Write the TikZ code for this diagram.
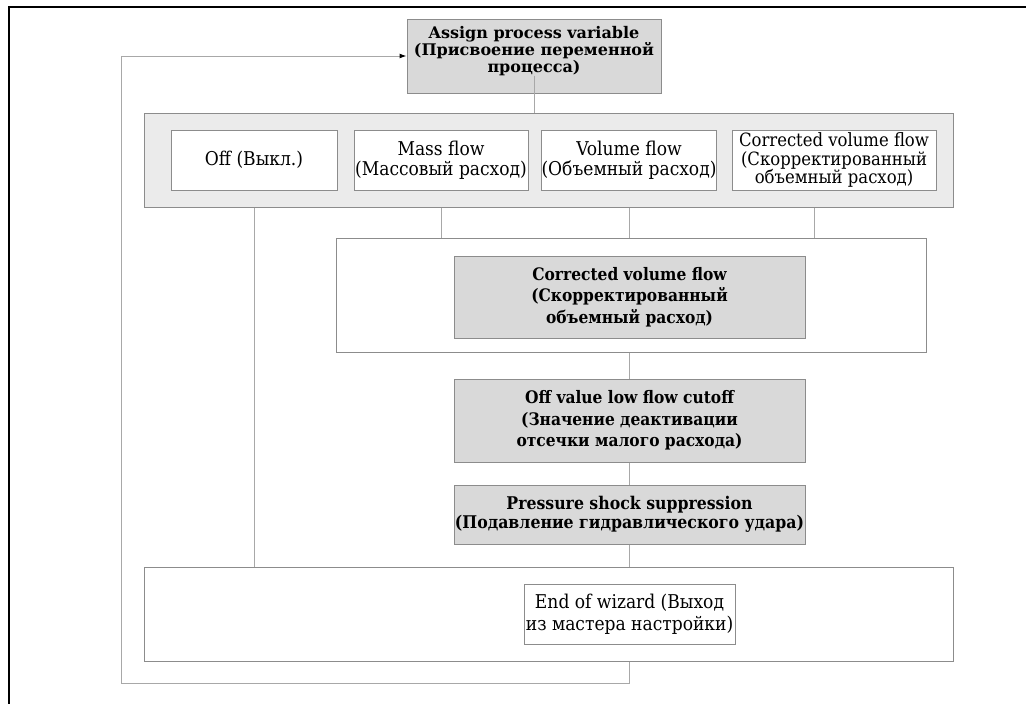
\documentclass[tikz,border=0pt]{standalone}
\usepackage{fontspec}
\setmainfont{DejaVu Serif Condensed}
\newfontfamily\wideserif{DejaVu Serif}
\usetikzlibrary{arrows.meta}

\definecolor{boxgray}{HTML}{D9D9D9}
\definecolor{panelgray}{HTML}{EBEBEB}
\definecolor{edgegray}{HTML}{8C8C8C}
\definecolor{linkgray}{HTML}{A8A8A8}

\begin{document}
\begin{tikzpicture}[
    x=1pt, y=-1pt,
    box/.style={draw=edgegray, line width=1pt, inner sep=0pt, align=center},
    param/.style={box, fill=boxgray, font=\bfseries\fontsize{17.2}{21.5}\selectfont},
    choice/.style={box, fill=white, minimum height=60, font=\fontsize{19}{20}\selectfont},
    group/.style={draw=edgegray, line width=1pt, inner sep=0pt},
    link/.style={draw=linkgray, line width=1pt},
    back/.style={link, -{Latex[length=7pt,width=5pt,color=black]}}
]
\useasboundingbox (0,0) rectangle (1026,704);

% frame
\draw[line width=1.6pt] (9,704) -- (9,7) -- (1026,7);

% containers
\node[group, fill=panelgray, minimum width=809, minimum height=94] (panel) at (548.5,160) {};
\node[group, fill=white, minimum width=590, minimum height=114] (cvgroup) at (631,295) {};
\node[group, fill=white, minimum width=809, minimum height=94] (endgroup) at (548.5,614) {};

% process variable
\node[param, minimum width=254, minimum height=74, font=\wideserif\bfseries\fontsize{16}{14}\selectfont] (assign) at (534,56)
    {Assign process variable\\(Присвоение переменной\\процесса)\\\mbox{}};

% choices
\node[choice, minimum width=166] (off) at (254,160) {Off (Выкл.)};
\node[choice, minimum width=174] (mass) at (441,160) {Mass flow\\(Массовый расход)};
\node[choice, minimum width=174] (vol) at (629,160) {Volume flow\\(Объемный расход)};
\node[choice, minimum width=204, font=\fontsize{18.3}{18.5}\selectfont] (corr) at (834,160)
    {Corrected volume flow\\(Скорректированный\\объемный расход)};

% parameters
\node[param, minimum width=351, minimum height=82] (cvflow) at (629.5,297)
    {Corrected volume flow\\(Скорректированный\\объемный расход)};
\node[param, minimum width=351, minimum height=83] (cutoff) at (629.5,420.5)
    {Off value low flow cutoff\\(Значение деактивации\\отсечки малого расхода)};
\node[param, minimum width=351, minimum height=59, font=\bfseries\fontsize{17.5}{19.5}\selectfont] (press) at (629.5,514.5)
    {Pressure shock suppression\\(Подавление гидравлического удара)};
\node[choice, minimum width=211, font=\fontsize{19}{22}\selectfont] (endbox) at (629.5,614)
    {End of wizard (Выход\\из мастера настройки)};

% links
\draw[link] ([yshift=18pt]assign.south) -- (assign.south |- panel.north);
\draw[link] (off.south |- panel.south) -- (off.south |- endgroup.north);
\draw[link] (mass.south |- panel.south) -- (mass.south |- cvgroup.north);
\draw[link] (vol.south |- panel.south) -- (vol.south |- cvgroup.north);
\draw[link] ([xshift=-20pt]corr.south |- panel.south) -- ([xshift=-20pt]corr.south |- cvgroup.north);
\draw[link] (cutoff.north |- cvgroup.south) -- (cutoff.north);
\draw[link] (cutoff.south) -- (press.north);
\draw[link] (press.south) -- (press.south |- endgroup.north);

% back to the start
\coordinate (loopcorner) at (121,683);
\draw[back] (endbox.south |- endgroup.south) |- (loopcorner) |- (assign.west);

\end{tikzpicture}
\end{document}
